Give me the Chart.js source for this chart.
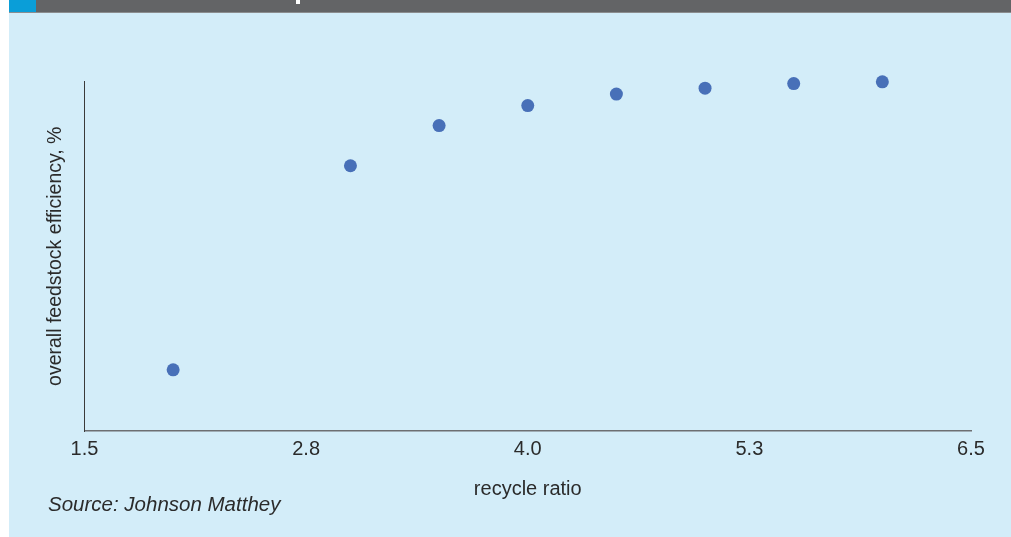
<!DOCTYPE html>
<html lang="en">
<head>
<meta charset="UTF-8" />
<title>Recycle ratio vs overall feedstock efficiency</title>
<script src="https://cdn.jsdelivr.net/npm/chart.js"></script>
<style>
  html, body {
    margin: 0;
    padding: 0;
    background: #ffffff;
  }
  body {
    width: 1011px;
    height: 537px;
    position: relative;
    overflow: hidden;
    font-family: "Liberation Sans", Arial, sans-serif;
  }
  .topbar {
    position: absolute;
    left: 9px;
    top: 0;
    width: 1002px;
    height: 12px;
    background: #636466;
    border-bottom: 1px solid #8b8d8f;
  }
  .tab {
    position: absolute;
    left: 9px;
    top: 0;
    width: 27px;
    height: 12px;
    background: #0a9ed8;
  }
  .blip {
    position: absolute;
    left: 296px;
    top: 0;
    width: 4px;
    height: 4px;
    background: #ffffff;
  }
  .panel {
    position: absolute;
    left: 9px;
    top: 13px;
    right: 0;
    bottom: 0;
    background: #d3edf9;
  }
  .chart-box {
    position: absolute;
    left: 0;
    top: 0;
    width: 1011px;
    height: 537px;
  }
  .source {
    position: absolute;
    left: 48px;
    top: 492px;
    font-style: italic;
    font-size: 20.5px;
    line-height: 24px;
    color: #2b2b2b;
  }
</style>
</head>
<body>
  <div class="panel"></div>
  <div class="topbar"></div>
  <div class="tab"></div>
  <div class="blip"></div>
  <div class="chart-box"><canvas id="chart"></canvas></div>
  <div class="source">Source: Johnson Matthey</div>

  <script>
    // values
    const recycleRatio = [2.0, 3.0, 3.5, 4.0, 4.5, 5.0, 5.5, 6.0];
    const efficiency = [17.5, 75.9, 87.4, 93.1, 96.4, 98.1, 99.4, 99.9];
    const xTickValues = [1.5, 2.75, 4.0, 5.25, 6.5];
    const xTickLabels = ['1.5', '2.8', '4.0', '5.3', '6.5'];

    const textColor = '#2b2b2b';
    Chart.defaults.font.family = "'Liberation Sans', Arial, sans-serif";

    const points = recycleRatio.map((x, i) => ({ x: x, y: efficiency[i] }));

    new Chart(document.getElementById('chart').getContext('2d'), {
      type: 'scatter',
      data: {
        datasets: [{
          label: 'overall feedstock efficiency',
          data: points,
          backgroundColor: '#4870b8',
          borderWidth: 0,
          pointRadius: 6.5,
          pointHoverRadius: 6.5,
          clip: false
        }]
      },
      options: {
        responsive: true,
        maintainAspectRatio: false,
        animation: false,
        layout: {
          padding: { left: 30, right: 40, top: 81.5, bottom: 36 }
        },
        plugins: {
          legend: { display: false },
          tooltip: { enabled: false }
        },
        scales: {
          x: {
            type: 'linear',
            position: 'bottom',
            min: 1.5,
            max: 6.5,
            afterBuildTicks: (scale) => {
              scale.ticks = xTickValues.map(v => ({ value: v }));
            },
            ticks: {
              color: textColor,
              font: { size: 20 },
              padding: 6.5,
              maxRotation: 0,
              autoSkip: false,
              callback: (value, index) => xTickLabels[index]
            },
            grid: { display: false, drawTicks: false },
            border: { display: true, color: '#6d6f72', width: 1.5 },
            title: {
              display: true,
              text: 'recycle ratio',
              color: textColor,
              font: { size: 20 },
              padding: { top: 9, bottom: 0 }
            }
          },
          y: {
            min: 0,
            max: 100,
            ticks: { display: false },
            grid: { display: false, drawTicks: false },
            border: { display: true, color: '#3a3a3a', width: 1 },
            title: {
              display: true,
              text: 'overall feedstock efficiency, %',
              color: textColor,
              font: { size: 19.5 },
              padding: { top: 13.8, bottom: 17.3 }
            }
          }
        }
      }
    });
  </script>
</body>
</html>
